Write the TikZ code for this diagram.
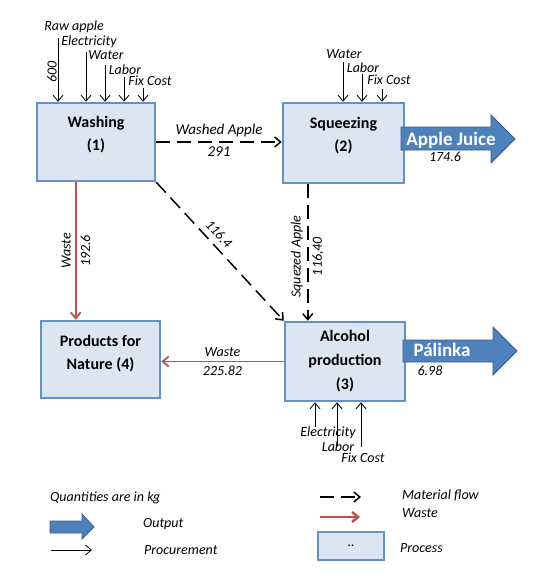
\documentclass[tikz,border=0pt]{standalone}
\usepackage{fontspec}
\setmainfont{Carlito}
\usetikzlibrary{arrows.meta}
\definecolor{boxfill}{RGB}{220,230,242}
\definecolor{boxline}{RGB}{100,145,200}
\definecolor{wastered}{RGB}{192,80,77}
\definecolor{outfill}{RGB}{79,129,189}
\definecolor{outedge}{RGB}{56,93,138}
\tikzset{
  process/.style={draw=boxline, fill=boxfill, line width=2.5pt, align=center,
    font=\bfseries\fontsize{16}{23}\selectfont},
  lbl/.style={font=\itshape\fontsize{14}{16}\selectfont, inner sep=1pt},
  flow/.style={->, line width=1.5pt, dash pattern=on 14pt off 7pt},
  waste/.style={->, draw=wastered, line width=1.8pt},
  proc/.style={->, line width=0.8pt},
  outarrow/.style={fill=outfill, draw=outedge, line width=0.8pt},
  outtxt/.style={text=white, font=\bfseries\fontsize{19}{20}\selectfont, inner sep=0pt}
}
\begin{document}
\begin{tikzpicture}[x=1pt, y=-1pt, >={Straight Barb[length=6pt,width=10pt]}]
  \useasboundingbox (0,0) rectangle (535,583);

  % processes
  \node[process, minimum width=118pt, minimum height=78pt, text depth=18pt] (wash) at (96,142) {Washing\\(1)};
  \node[process, minimum width=121pt, minimum height=80pt, text depth=18pt] (squeeze) at (343.5,143) {Squeezing\\(2)};
  \node[process, minimum width=119pt, minimum height=77pt, text depth=15pt] (nature) at (100.5,359.5) {Products for\\Nature (4)};
  \node[process, minimum width=120pt, minimum height=79pt, font=\bfseries\fontsize{16}{24}\selectfont] (alc) at (345,361.5) {Alcohol\\production\\(3)};

  % outputs
  \draw[outarrow] (401,127) -- (491,127) -- (491,115) -- (515,139) -- (491,163) -- (491,150) -- (401,150) -- cycle;
  \node[outtxt] (juice) at (451,140) {Apple Juice};
  \node[lbl] (juiceval) at (445,157) {174.6};
  \draw[outarrow] (403,340) -- (493,340) -- (493,327) -- (517,351) -- (493,375) -- (493,362) -- (403,362) -- cycle;
  \node[outtxt] (palinka) at (442,350) {Pálinka};
  \node[lbl] (palinkaval) at (430,371) {6.98};

  % procurement
  \foreach \x/\y in {58/38, 86/52, 105/65, 124/77, 143/88} {
    \coordinate (w\x) at (\x,\y);
    \draw[proc] (w\x) -- (w\x |- wash.north);
  }
  \foreach \x/\y/\txt in {74/27/Raw apple, 89/42/Electricity, 106/55/Water, 125/70/Labor, 150/81/Fix Cost}
    \node[lbl] (wl\x) at (\x,\y) {\txt};
  \node[lbl, rotate=90] (rawqty) at (52,72) {600};

  \foreach \x/\y in {343/62, 362/74, 382/89} {
    \coordinate (s\x) at (\x,\y);
    \draw[proc] (s\x) -- (s\x |- squeeze.north);
  }
  \foreach \x/\y/\txt in {344/54/Water, 363/68/Labor, 389/80/Fix Cost}
    \node[lbl] (sl\x) at (\x,\y) {\txt};

  \foreach \x/\y in {315/427, 337/446, 361/447} {
    \coordinate (a\x) at (\x,\y);
    \draw[proc] (a\x) -- (a\x |- alc.south);
  }
  \foreach \x/\y/\txt in {328/433/Electricity, 338/447/Labor, 363/458/Fix Cost}
    \node[lbl] (al\x) at (\x,\y) {\txt};

  % material flows
  \draw[flow] (wash.east) -- (wash.east -| squeeze.west)
    node[lbl, midway, above=3pt, font=\itshape\fontsize{15}{16}\selectfont] (washedlbl) {Washed Apple}
    node[lbl, midway, below=3pt, font=\itshape\fontsize{15}{16}\selectfont] (washedval) {291};
  \draw[flow] (wash.south east) -- (alc.north west);
  \node[lbl, rotate=-47] (directval) at (219,234) {116.4};
  \coordinate (sq) at ([xshift=26pt]squeeze.south west);
  \draw[flow] (sq) -- (sq |- alc.north)
    node[lbl, pos=0.53, rotate=90, anchor=south, yshift=3pt] (squeezedlbl) {Squezed Apple}
    node[lbl, pos=0.53, rotate=90, anchor=north, yshift=-3pt] (squeezedval) {116,40};

  % waste
  \coordinate (wt) at ([xshift=40pt]wash.south west);
  \draw[waste] (wt) -- (wt |- nature.north)
    node[lbl, midway, rotate=90, anchor=south, yshift=3pt] (washwaste) {Waste}
    node[lbl, midway, rotate=90, anchor=north, yshift=-3pt] (washwasteval) {192.6};
  \draw[waste] (alc.west) -- (alc.west -| nature.east)
    node[lbl, midway, above=3pt] (alcwaste) {Waste}
    node[lbl, midway, below=3pt] (alcwasteval) {225.82};

  % legend
  \node[lbl, anchor=west] (qty) at (49,498) {Quantities are in kg};
  \draw[outarrow] (50,521) -- (82,521) -- (82,514) -- (94,527) -- (82,539) -- (82,533) -- (50,533) -- cycle;
  \node[lbl, anchor=west] (outlbl) at (142,524) {Output};
  \coordinate (pr1) at (51,550);
  \coordinate (pr2) at (92,550);
  \draw[proc] (pr1) -- (pr2);
  \node[lbl, anchor=west] (prlbl) at (143,550) {Procurement};
  \coordinate (mf1) at (320,497);
  \coordinate (mf2) at (361,497);
  \draw[flow] (mf1) -- (mf2);
  \node[lbl, anchor=west] (mflbl) at (401,495) {Material flow};
  \coordinate (mw1) at (320,517);
  \coordinate (mw2) at (360,517);
  \draw[waste, line width=2.5pt] (mw1) -- (mw2);
  \node[lbl, anchor=west] (mwlbl) at (401,513) {Waste};
  \node[process, minimum width=66pt, minimum height=28pt, font=\fontsize{14}{16}\selectfont] (legbox) at (351,546) {..};
  \node[lbl, anchor=west] (pclbl) at (399,548) {Process};
\end{tikzpicture}
\end{document}
